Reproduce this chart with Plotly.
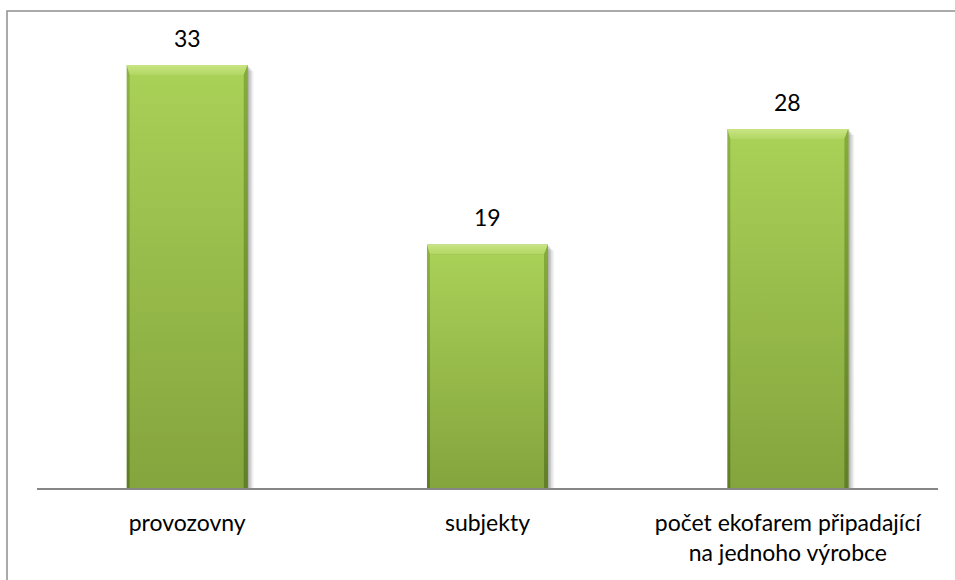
import plotly.graph_objects as go

# --- data -------------------------------------------------------------
categories = [
    "provozovny",
    "subjekty",
    "počet ekofarem připadající<br>na jednoho výrobce",
]
values = [33, 19, 28]

# --- layout geometry --------------------------------------------------
W, H = 955, 580
M_L, M_R, M_T, M_B = 37, 17, 20, 92
PLOT_W = W - M_L - M_R
PLOT_H = H - M_T - M_B
Y_MAX = 36.5
BAR_W = 0.403
HALF = BAR_W / 2

X_PX = PLOT_W / 3.0          # pixels per category unit
Y_PX = PLOT_H / Y_MAX        # pixels per value unit

FONT = "Lato"
FONT_SIZE = 23


def dx(p):
    return p / X_PX


def dy(p):
    return p / Y_PX


def poly(xs, ys, c_bottom, c_top, opacity=1.0):
    return go.Scatter(
        x=xs + [xs[0]], y=ys + [ys[0]],
        mode="lines", line=dict(width=0, color="rgba(0,0,0,0)"),
        fill="toself",
        fillgradient=dict(type="vertical",
                          colorscale=[[0, c_bottom], [1, c_top]]),
        opacity=opacity,
        hoverinfo="skip", showlegend=False,
    )


fig = go.Figure()

for i, v in enumerate(values):
    x0, x1 = i - HALF, i + HALF
    # soft drop shadow on the right
    for off, a in [(6, 0.05), (4.5, 0.07), (3, 0.09), (1.5, 0.12)]:
        fig.add_trace(go.Scatter(
            x=[x0 + dx(off), x1 + dx(off), x1 + dx(off), x0 + dx(off), x0 + dx(off)],
            y=[0, 0, v - dy(off), v - dy(off), 0],
            mode="lines", line=dict(width=0, color="rgba(0,0,0,0)"),
            fill="toself", fillcolor=f"rgba(0,0,0,{a})",
            hoverinfo="skip", showlegend=False,
        ))
    # outer body (bevel edges)
    fig.add_trace(poly([x0, x1, x1, x0], [0, 0, v, v], "#5E7C24", "#8DB443"))
    # top bevel highlight
    bl, br, bt = dx(3), dx(4), dy(10)
    fig.add_trace(poly([x0, x1, x1 - br, x0 + bl], [v, v, v - bt, v - bt],
                       "#B2D663", "#C9E584"))
    # right bevel shade
    fig.add_trace(poly([x1 - br, x1, x1, x1 - br], [0, 0, v, v - bt],
                       "#607F27", "#86AC3C"))
    # front face
    fig.add_trace(poly([x0 + bl, x1 - br, x1 - br, x0 + bl],
                       [0, 0, v - bt, v - bt], "#84A43D", "#A9D057"))
    # value label
    fig.add_annotation(x=i, y=v, text=str(v), showarrow=False,
                       yanchor="middle", yshift=27,
                       font=dict(family=FONT, size=FONT_SIZE, color="#000000"))

# chart-area frame
fig.add_shape(
    type="rect", xref="paper", yref="paper",
    x0=(7 - M_L) / PLOT_W, x1=(W + 20 - M_L) / PLOT_W,
    y0=(M_T + PLOT_H - (H + 20)) / PLOT_H, y1=(M_T + PLOT_H - 11) / PLOT_H,
    line=dict(color="#8E8E8E", width=1.5), fillcolor="rgba(0,0,0,0)",
    layer="above",
)

fig.update_xaxes(
    range=[-0.5, 2.5], tickmode="array", tickvals=[0, 1, 2], ticktext=categories,
    showline=True, linecolor="#868686", linewidth=1.5, showgrid=False,
    zeroline=False, ticks="", ticklabelstandoff=14,
    tickfont=dict(family=FONT, size=FONT_SIZE, color="#000000"),
    fixedrange=True,
)
fig.update_yaxes(range=[0, Y_MAX], visible=False, fixedrange=True)

fig.update_layout(
    width=W, height=H,
    margin=dict(l=M_L, r=M_R, t=M_T, b=M_B),
    paper_bgcolor="white", plot_bgcolor="white",
    showlegend=False,
    font=dict(family=FONT),
)

fig.write_html("out.html")
